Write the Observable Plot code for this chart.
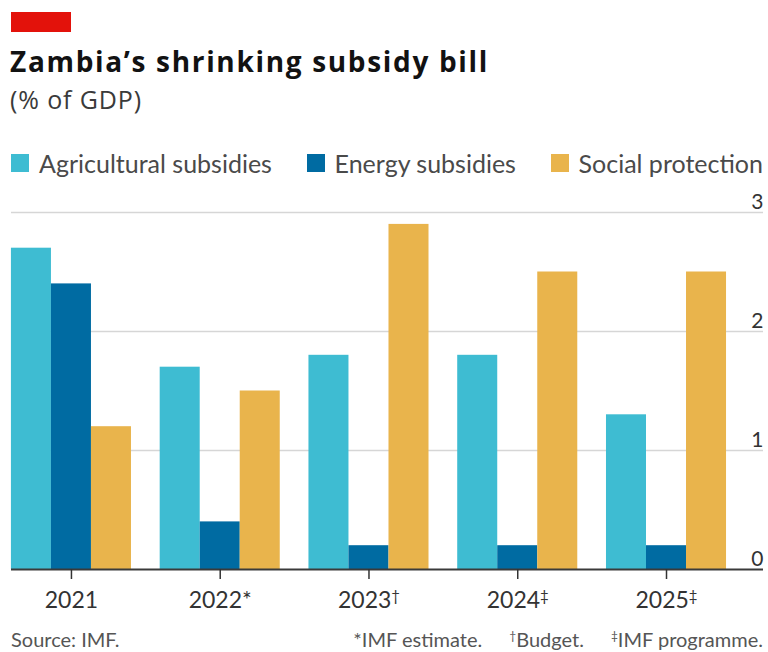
<!DOCTYPE html>
<html>
<head>
<meta charset="utf-8">
<script src="https://cdn.jsdelivr.net/npm/d3@7"></script>
<script src="https://cdn.jsdelivr.net/npm/@observablehq/plot@0.6"></script>
<style>
  html, body { margin: 0; padding: 0; background: #fff; }
  body { width: 768px; height: 652px; position: relative; overflow: hidden; font-family: Lato, "Noto Sans", sans-serif; }
  .redbar { position: absolute; left: 11px; top: 12px; width: 60px; height: 20px; background: #e3120b; }
  .title { position: absolute; left: 10px; top: 42px; font-family: "Open Sans", "Noto Sans", sans-serif; font-size: 28px; line-height: 38px; font-weight: 700; color: #121212; white-space: nowrap; }
  .subtitle { position: absolute; left: 10px; top: 83px; font-family: "Open Sans", "Noto Sans", sans-serif; font-size: 25px; line-height: 32px; color: #3a3a3a; white-space: nowrap; }
  .legend { position: absolute; left: 11px; top: 148px; width: 752px; display: flex; justify-content: space-between; font-size: 25px; line-height: 1.2; color: #4a4a4a; white-space: nowrap; }
  .legend .item { display: flex; align-items: center; }
  .legend .sw { width: 18px; height: 18px; margin-right: 10px; display: inline-block; }
  #chart { position: absolute; left: 0; top: 185px; }
  .footer { position: absolute; left: 11px; top: 627px; width: 752px; display: flex; justify-content: space-between; font-size: 20px; line-height: 1.2; color: #555; white-space: nowrap; }
  .footer sup { font-size: 12px; vertical-align: 7px; line-height: 0; }
  .footer .notes span { margin-left: 27px; }
</style>
</head>
<body>
<div class="redbar"></div>
<div class="title"><span id="title">Zambia’s shrinking subsidy bill</span></div>
<div class="subtitle"><span id="subtitle">(% of GDP)</span></div>
<div class="legend" id="legend"></div>
<div id="chart"></div>
<div class="footer">
  <div>Source: IMF.</div>
  <div class="notes"><span>*IMF estimate.</span><span><sup>†</sup>Budget.</span><span><sup>‡</sup>IMF programme.</span></div>
</div>
<script>
// ---- data ----
const years = ["2021", "2022*", "2023†", "2024‡", "2025‡"];
const series = ["Agricultural subsidies", "Energy subsidies", "Social protection"];
const agricultural = [2.7, 1.7, 1.8, 1.8, 1.3];
const energy = [2.4, 0.4, 0.2, 0.2, 0.2];
const social = [1.2, 1.5, 2.9, 2.5, 2.5];
const yTicks = [0, 1, 2, 3];
const colors = ["#3ebcd2", "#006ba2", "#e9b44c"];

const values = [agricultural, energy, social];
const rows = years.flatMap((year, i) =>
  series.map((s, k) => ({ i, k, year, series: s, value: values[k][i] }))
);

// fit heading widths to the reference proportions
function fit(id, target, maxLs) {
  const el = document.getElementById(id);
  const w = el.getBoundingClientRect().width;
  const n = el.textContent.length;
  const ls = Math.max(-1.5, Math.min(maxLs, (target - w) / n));
  el.style.letterSpacing = ls + "px";
}
fit("title", 479, 2.5);
fit("subtitle", 132, 1.2);

// legend
const legend = document.getElementById("legend");
series.forEach((s, k) => {
  const item = document.createElement("div");
  item.className = "item";
  const sw = document.createElement("span");
  sw.className = "sw";
  sw.style.background = colors[k];
  item.appendChild(sw);
  item.appendChild(document.createTextNode(s));
  legend.appendChild(item);
});

const bw = 0.269; // bar width in group units
const chart = Plot.plot({
  width: 768,
  height: 440,
  marginTop: 27,
  marginBottom: 56,
  marginLeft: 11,
  marginRight: 5,
  style: { fontFamily: "Lato, 'Noto Sans', sans-serif", fontSize: "23px", color: "#333", background: "transparent" },
  x: { type: "linear", domain: [-0.403, 4.652] },
  y: { domain: [0, 3], axis: null },
  color: { domain: series, range: colors },
  marks: [
    Plot.ruleY(yTicks.filter(d => d > 0), { stroke: "#d6d6d6", strokeWidth: 1.4 }),
    Plot.rectY(rows, {
      x1: d => d.i + (d.k - 1.5) * bw,
      x2: d => d.i + (d.k - 0.5) * bw,
      y1: 0,
      y2: "value",
      fill: "series"
    }),
    Plot.ruleY([0], { stroke: "#3a3a3a", strokeWidth: 2 }),
    Plot.axisX(d3.range(years.length), {
      tickFormat: i => years[i],
      tickSize: 10,
      tickPadding: 12,
      strokeWidth: 1.5,
      color: "#333",
      fontSize: 23
    }),
    Plot.text(yTicks, {
      y: d => d,
      text: d => String(d),
      frameAnchor: "right",
      textAnchor: "end",
      lineAnchor: "bottom",
      dy: -4,
      fontSize: 21,
      fill: "#333"
    })
  ]
});
document.getElementById("chart").appendChild(chart);

// render the footnote daggers in the year labels as superscripts
d3.select(chart).selectAll("text").each(function () {
  const t = this.textContent;
  const m = t.match(/^(\d{4})([†‡])$/);
  if (!m) return;
  const sel = d3.select(this);
  sel.text(null);
  sel.append("tspan").text(m[1]);
  sel.append("tspan").attr("font-size", 15).attr("baseline-shift", "7").text(m[2]);
});
</script>
</body>
</html>
